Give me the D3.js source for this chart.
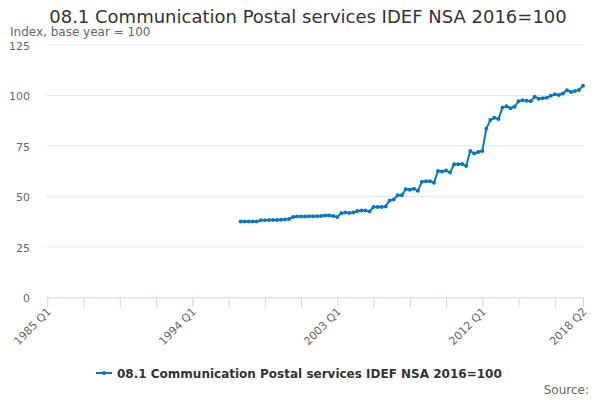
<!DOCTYPE html>
<html>
<head>
<meta charset="utf-8">
<script src="https://cdn.jsdelivr.net/npm/d3@7"></script>
<style>
  body { margin: 0; background: #fff; }
  svg { font-family: "DejaVu Sans", sans-serif; }
</style>
</head>
<body>
<div class="canvas"></div>
<script>
// axis categories: every quarter from 1985 Q1 to 2018 Q2
const firstYear = 1985;
const lastCategory = '2018 Q2';
const categories = [];
for (let y = firstYear; categories[categories.length - 1] !== lastCategory; y++) {
    for (let q = 1; q <= 4 && categories[categories.length - 1] !== lastCategory; q++) {
        categories.push(`${y} Q${q}`);
    }
}

// labelled ticks and y ticks
const tickLabels = ['1985 Q1', '1994 Q1', '2003 Q1', '2012 Q1', '2018 Q2'];
const yTicks = [0, 25, 50, 75, 100, 125];

// series: index values from 1997 Q1 to 2018 Q2
const seriesName = '08.1 Communication Postal services IDEF NSA 2016=100';
const seriesStart = '1997 Q1';
const values = [
    37.5, 37.5, 37.5, 37.6,   // 1997
    37.6, 38.2, 38.2, 38.3,   // 1998
    38.3, 38.3, 38.4, 38.5,   // 1999
    38.8, 39.8, 40.0, 40.0,   // 2000
    40.0, 40.2, 40.2, 40.2,   // 2001
    40.3, 40.5, 40.5, 40.3,   // 2002
    39.8, 41.7, 42.0, 41.8,   // 2003
    42.0, 42.8, 43.0, 43.0,   // 2004
    42.5, 44.8, 44.8, 44.8,   // 2005
    45.0, 48.0, 48.5, 50.5,   // 2006
    50.5, 53.5, 53.3, 53.8,   // 2007
    52.8, 57.3, 57.5, 57.5,   // 2008
    56.8, 62.6, 62.3, 62.8,   // 2009
    61.8, 65.9, 65.9, 66.0,   // 2010
    65.0, 72.5, 71.2, 72.0,   // 2011
    72.5, 83.6, 87.8, 88.9,   // 2012
    88.3, 94.0, 94.7, 93.7,   // 2013
    94.4, 97.1, 97.6, 97.4,   // 2014
    97.1, 99.3, 98.4, 98.6,   // 2015
    98.9, 99.8, 100.6, 100.2, // 2016
    101.0, 102.6, 101.7, 102.2, // 2017
    102.7, 104.8              // 2018
];

const dims = { width: 600, height: 400 };
const plot = { left: 47.3, right: 583, top: 45, bottom: 297.3 };
const lineColor = '#0a77c1';

const svg = d3.select('.canvas')
    .append('svg')
    .attr('width', dims.width)
    .attr('height', dims.height);

// scales
const x = d3.scalePoint()
    .domain(categories)
    .range([plot.left, plot.right]);

const y = d3.scaleLinear()
    .domain([0, 125])
    .range([plot.bottom, plot.top]);

// title and subtitle
svg.append('text')
    .attr('x', 308)
    .attr('y', 23)
    .attr('text-anchor', 'middle')
    .attr('font-size', 18)
    .attr('fill', '#333')
    .text(seriesName);

svg.append('text')
    .attr('x', 10)
    .attr('y', 36)
    .attr('font-size', 12)
    .attr('fill', '#666')
    .text('Index, base year = 100');

// gridlines + y labels
const yAxis = svg.append('g');
yAxis.selectAll('line')
    .data(yTicks.filter(d => d > 0))
    .enter()
    .append('line')
    .attr('x1', plot.left - 1)
    .attr('x2', plot.right + 1)
    .attr('y1', d => y(d))
    .attr('y2', d => y(d))
    .attr('stroke', '#e6e6e6')
    .attr('stroke-width', 1);

yAxis.selectAll('text')
    .data(yTicks)
    .enter()
    .append('text')
    .attr('x', 30)
    .attr('y', d => y(d) + 5)
    .attr('text-anchor', 'end')
    .attr('font-size', 11)
    .attr('fill', '#666')
    .text(d => d);

// x axis: tick every 9 quarters plus the last one
const tickCats = categories.filter((c, i) => i % 9 === 0 || c === lastCategory);
const xAxis = d3.axisBottom(x)
    .tickValues(tickCats)
    .tickSize(10)
    .tickFormat(d => tickLabels.includes(d) ? d : '');

const gx = svg.append('g')
    .attr('transform', `translate(0, ${plot.bottom})`)
    .call(xAxis);

gx.select('.domain')
    .attr('d', `M${plot.left - 1},0.5H${plot.right + 1}`)
    .attr('stroke', '#ccd6eb');
gx.selectAll('.tick line').attr('stroke', '#ccd6eb');
gx.selectAll('.tick text')
    .attr('font-family', '"DejaVu Sans", sans-serif')
    .attr('font-size', 11)
    .attr('fill', '#666')
    .attr('text-anchor', 'end')
    .attr('y', 0)
    .attr('dy', 0)
    .attr('transform', 'translate(4, 15) rotate(-45)');

// series line
const points = values.map((v, i) => ({ cat: categories[categories.indexOf(seriesStart) + i], v }));

const line = d3.line()
    .x(d => x(d.cat))
    .y(d => y(d.v));

svg.append('path')
    .datum(points)
    .attr('d', line)
    .attr('fill', 'none')
    .attr('stroke', lineColor)
    .attr('stroke-width', 2)
    .attr('stroke-linejoin', 'round');

svg.append('g')
    .selectAll('circle')
    .data(points)
    .enter()
    .append('circle')
    .attr('cx', d => x(d.cat))
    .attr('cy', d => y(d.v))
    .attr('r', 2)
    .attr('fill', lineColor);

// legend
const legend = svg.append('g').attr('transform', 'translate(96, 373)');
legend.append('line')
    .attr('x1', 0).attr('x2', 16)
    .attr('y1', 0).attr('y2', 0)
    .attr('stroke', lineColor)
    .attr('stroke-width', 2);
legend.append('circle')
    .attr('cx', 8).attr('cy', 0).attr('r', 2)
    .attr('fill', lineColor);
legend.append('text')
    .attr('x', 21)
    .attr('y', 4.5)
    .attr('font-size', 12)
    .attr('font-weight', 'bold')
    .attr('fill', '#333')
    .text(seriesName);

// source
svg.append('text')
    .attr('x', 589)
    .attr('y', 394)
    .attr('text-anchor', 'end')
    .attr('font-size', 12)
    .attr('fill', '#666')
    .text('Source:');
</script>
</body>
</html>
